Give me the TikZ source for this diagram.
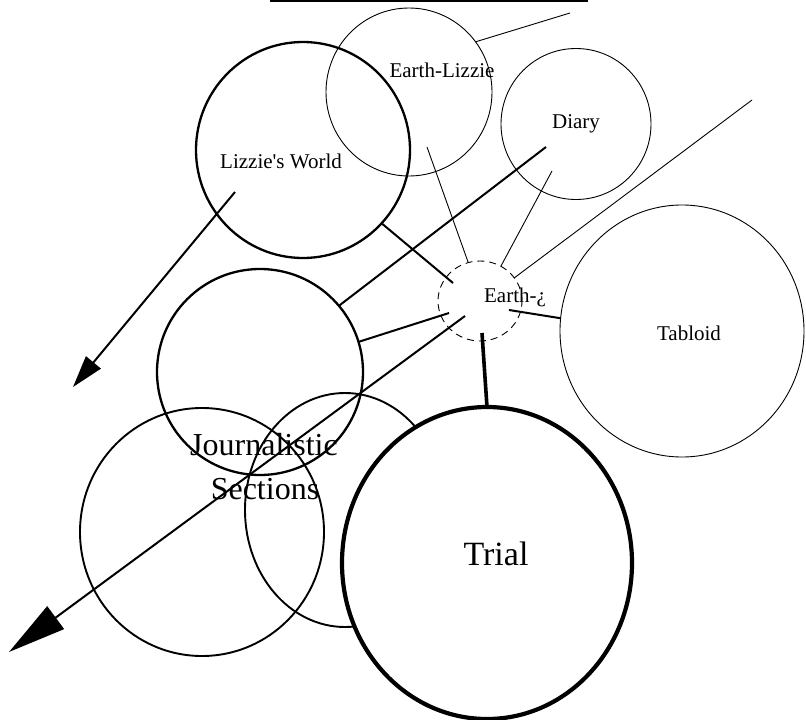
\documentclass[tikz,border=0pt]{standalone}
\usepackage{fontspec}
\setmainfont{Liberation Serif}
\usetikzlibrary{shapes.geometric,arrows.meta}

\begin{document}
\begin{tikzpicture}[x=1pt,y=-1pt,
  ring/.style={ellipse, draw, inner sep=0pt, outer sep=0pt},
  ringfine/.style={ring, line width=0.9pt},
  ringmed/.style={ring, line width=1.9pt},
  ringbold/.style={ring, line width=2.3pt},
  ringheavy/.style={ring, line width=4.2pt},
  tag/.style={inner sep=0pt, anchor=base, font=\fontsize{21}{25}\selectfont},
  bigtag/.style={tag, font=\fontsize{32}{38}\selectfont},
  hugetag/.style={tag, font=\fontsize{34}{40}\selectfont},
  linkfine/.style={line width=0.9pt},
  linkmid/.style={line width=2pt},
  linkheavy/.style={line width=3.6pt}]

\useasboundingbox (0,0) rectangle (806,720);

% rule along the top edge
\draw[line width=1.4pt] (270,1) -- (588,1);

% topic circles
\node[ringbold, minimum width=214pt, minimum height=216pt] (world) at (303,150) {};
\node[ringfine, minimum width=166pt, minimum height=168pt] (elz) at (409,92) {};
\node[ringfine, minimum width=150pt, minimum height=151pt] (diary) at (576,124) {};
\node[ringfine, minimum width=244pt, minimum height=252pt] (tabloid) at (682,331) {};
\node[ringbold, minimum width=206pt, minimum height=206pt] (mid) at (260,372) {};
\node[ringmed, minimum width=244pt, minimum height=248pt] (left) at (202,532) {};
\node[ringmed, minimum width=200pt, minimum height=234pt] (centre) at (345,510) {};
\node[ringheavy, fill=white, minimum width=290pt, minimum height=312pt] (trial) at (487,563) {};
\node[ringfine, dash pattern=on 7pt off 5pt, minimum width=84pt, minimum height=80pt] (earth) at (480,301) {};

% free ends of the connectors
\coordinate (wTail) at (235,192);
\coordinate (wTip) at (73,387);
\coordinate (eA) at (453,283);
\coordinate (dA) at (546,147);
\coordinate (dB) at (552,171);
\coordinate (lB) at (427,147);
\coordinate (farEnd) at (752,100);
\coordinate (topEnd) at (570,13);
\coordinate (eT) at (509,310);
\coordinate (eD) at (482,333);
\coordinate (eM) at (449,313);
\coordinate (jTail) at (465,316);
\coordinate (jTip) at (9,652);

% connectors
\draw[linkmid, -{Triangle[length=32pt,width=19pt]}] (wTail) -- (wTip);
\draw[linkmid] (world.317) -- (eA);
\draw[linkmid] (dA) -- (mid.40);
\draw[linkfine] (dB) -- (earth.59);
\draw[linkfine] (lB) -- (earth.107);
\draw[linkfine] (farEnd) -- (earth.34);
\draw[linkfine] (elz.37) -- (topEnd);
\draw[linkmid] (eT) -- (tabloid.174);
\draw[linkheavy] (eD) -- (trial.north);
\draw[linkmid] (eM) -- (mid.17);
\draw[linkmid, -{Triangle[length=58pt,width=28pt]}] (jTail) -- (jTip);

% labels
\node[tag] (worldtxt) at (281,168) {Lizzie\textquotesingle s World};
\node[tag] (elztxt) at (442,77) {Earth-Lizzie};
\node[tag] (diarytxt) at (576,128) {Diary};
\node[tag] (tabloidtxt) at (689,340) {Tabloid};
\node[tag] (earthtxt) at (515,302) {Earth-¿};
\node[bigtag] (jtxt) at (264,455) {Journalistic};
\node[bigtag] (stxt) at (265,499) {Sections};
\node[hugetag] (trialtxt) at (496,565) {Trial};
\end{tikzpicture}
\end{document}
